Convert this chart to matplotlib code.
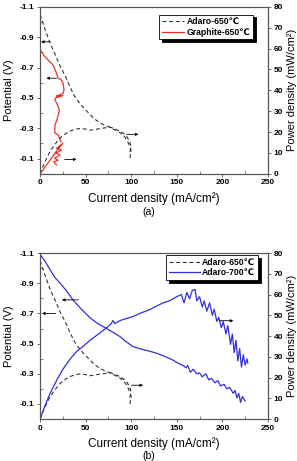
import matplotlib
matplotlib.use('Agg')
import matplotlib.pyplot as plt
from matplotlib.ticker import MultipleLocator

plt.rcParams['font.family'] = ['Liberation Sans', 'DejaVu Sans']
plt.rcParams['font.weight'] = 'bold'

## donnees
# Adaro-650 (les deux panneaux)
a650_i = [0, 5, 11, 17, 22, 28, 33, 38, 44, 50, 55, 60, 66, 71, 77, 82, 88, 92, 95, 97, 99, 100, 99, 98.5]
a650_v = [-1.05, -0.96, -0.86, -0.78, -0.71, -0.64, -0.57, -0.51, -0.46, -0.42, -0.39, -0.36,
          -0.335, -0.32, -0.305, -0.29, -0.27, -0.25, -0.225, -0.20, -0.17, -0.15, -0.12, -0.09]
a650_p = [0, 5.5, 10.8, 14.5, 17.2, 19.2, 20.5, 21.3, 21.8, 21.4, 20.9, 21.2, 21.7, 22.0, 22.4,
          21.5, 20.4, 19.2, 18.0, 16.5, 14.5, 13, 11.5, 10]

# Graphite-650
gra_i = [0, 5.1, 14.2, 17.9, 19.7, 23.3, 25.2, 26.3, 25.2, 21.6, 17.9, 25, 17, 16.1, 18.3, 21.2,
         19, 16.4, 16, 20, 21.6, 23]
gra_v = [-0.818, -0.773, -0.717, -0.664, -0.631, -0.619, -0.597, -0.553, -0.531, -0.52, -0.512,
         -0.515, -0.50, -0.49, -0.465, -0.421, -0.366, -0.322, -0.27, -0.255, -0.23, -0.21]
gra_pi = [0, 5, 10, 15, 20, 25, 18, 23.4, 17.5, 22, 16, 19.7, 15, 18]
gra_p = [0, 3, 6, 9, 12, 14.6, 12.2, 11.5, 9.8, 9, 7.4, 6.5, 5.8, 4.2]

# Adaro-700
a700_i = [0, 5, 11, 16, 22, 29, 36, 45, 55, 64, 73, 80, 88, 95, 102, 110, 120, 128, 137, 146,
          150, 155, 158, 160, 162, 165, 168, 172, 175, 178, 182, 185, 188, 192, 195, 198, 202,
          205, 208, 212, 214, 216, 218, 220, 222, 225]
a700_v = [-1.09, -1.05, -0.99, -0.94, -0.90, -0.85, -0.79, -0.73, -0.67, -0.63, -0.60, -0.575,
          -0.545, -0.51, -0.48, -0.465, -0.45, -0.436, -0.415, -0.39, -0.375, -0.36, -0.35, -0.34,
          -0.355, -0.31, -0.33, -0.30, -0.305, -0.28, -0.30, -0.26, -0.27, -0.24, -0.255, -0.22,
          -0.23, -0.20, -0.21, -0.17, -0.19, -0.14, -0.17, -0.11, -0.15, -0.12]
a700_pi = [0, 5, 11, 18, 25, 33, 40, 47, 55, 64, 73, 78, 80, 82, 88, 95, 102, 110, 120, 128, 135,
           142, 150, 155, 158, 161, 164, 167, 170, 172, 175, 178, 180, 183, 186, 189, 191, 194,
           196, 199, 201, 204, 206, 209, 211, 213, 215, 217, 219, 221, 223, 225, 227, 228]
a700_p = [0, 6, 12.4, 18.5, 24, 29, 32.5, 35, 38, 41, 44, 46, 47.5, 46, 47.5, 48.5, 49.4, 51, 52.7,
          54.5, 56, 57, 59, 60, 56, 61, 58, 62, 62.5, 57, 59, 54, 57, 52, 56, 50, 53, 47, 49, 44,
          47, 41, 45, 36, 41, 32, 38, 28, 34, 25, 31, 26, 29, 27]

v_ticks = [-1.1, -0.9, -0.7, -0.5, -0.3, -0.1]

GRIS = '#555555'
ROUGE = '#e8302a'
BLEU = '#2f2fdc'
DASH = (0, (3.5, 2.5))


def habillage(ax, axd):
    ax.set_xlim(0, 250)
    ax.set_ylim(0, -1.1)
    axd.set_ylim(0, 80)
    ax.set_yticks(v_ticks)
    ax.set_yticklabels(['%.1f' % v for v in v_ticks])
    ax.xaxis.set_major_locator(MultipleLocator(50))
    ax.xaxis.set_minor_locator(MultipleLocator(25))
    ax.yaxis.set_minor_locator(MultipleLocator(0.1))
    axd.yaxis.set_major_locator(MultipleLocator(10))
    for a in (ax, axd):
        for s in a.spines.values():
            s.set_color(GRIS)
            s.set_linewidth(0.8)
        a.tick_params(which='major', direction='out', length=2.5, width=0.6, labelsize=6, pad=1.5, color=GRIS)
        a.tick_params(which='minor', direction='in', length=2, width=0.5, color=GRIS)
    ax.set_ylabel('Potential (V)', fontsize=8, labelpad=4)
    axd.set_ylabel('Power density (mW/cm²)', fontsize=8, labelpad=3)
    ax.set_xlabel('Current density (mA/cm²)', fontsize=8.5, labelpad=4)


def fleche(ax, x0, y0, x1, y1):
    ax.annotate('', xy=(x1, y1), xytext=(x0, y0),
                arrowprops=dict(arrowstyle='-|>', lw=0.6, color='k', mutation_scale=4, shrinkA=0, shrinkB=0))


def legende(axd, handles, labels, ancre, hl):
    leg = axd.legend(handles, labels, loc='upper right', bbox_to_anchor=ancre, borderaxespad=0,
                     fontsize=6.2, handlelength=hl, handletextpad=0.3, borderpad=0.3,
                     labelspacing=0.2, fancybox=False, framealpha=1, edgecolor='k',
                     shadow={'color': 'k', 'alpha': 1})
    leg.get_frame().set_linewidth(0.6)


fig = plt.figure(figsize=(2.97, 4.61), dpi=100)

## (a)
ax1 = fig.add_axes([0.135, 0.623, 0.767, 0.362])
ax1d = ax1.twinx()
l1, = ax1.plot(a650_i, a650_v, color='#333333', lw=0.8, ls=DASH)
l2, = ax1.plot(gra_i, gra_v, color=ROUGE, lw=0.9)
ax1d.plot(a650_i, a650_p, color='#333333', lw=0.8, ls=DASH)
ax1d.plot(gra_pi, gra_p, color=ROUGE, lw=0.9)
habillage(ax1, ax1d)
fleche(ax1, 11, -0.87, 1, -0.87)
fleche(ax1, 18, -0.63, 7, -0.63)
fleche(ax1d, 95, 18.9, 108, 18.9)
fleche(ax1d, 27, 6.9, 40, 6.9)
legende(ax1d, [l1, l2], ['Adaro-650℃', 'Graphite-650℃'], (0.934, 0.954), 2.6)
fig.text(0.5, 0.54, '(a)', ha='center', va='center', fontsize=7.5, weight='normal')

## (b)
ax2 = fig.add_axes([0.135, 0.091, 0.767, 0.360])
ax2d = ax2.twinx()
m1, = ax2.plot(a650_i, a650_v, color='#333333', lw=0.8, ls=DASH)
m2, = ax2.plot(a700_i, a700_v, color=BLEU, lw=0.9)
ax2d.plot(a650_i, a650_p, color='#333333', lw=0.8, ls=DASH)
ax2d.plot(a700_pi, a700_p, color=BLEU, lw=0.9)
habillage(ax2, ax2d)
fleche(ax2, 42, -0.79, 24, -0.79)
fleche(ax2, 17, -0.70, 2, -0.70)
fleche(ax2d, 197, 47.4, 212, 47.4)
fleche(ax2d, 100, 16.3, 113, 16.3)
legende(ax2d, [m1, m2], ['Adaro-650℃', 'Adaro-700℃'], (0.956, 0.988), 3.6)
fig.text(0.5, 0.011, '(b)', ha='center', va='center', fontsize=7.5, weight='normal')

fig.savefig('out.png', dpi=100)
